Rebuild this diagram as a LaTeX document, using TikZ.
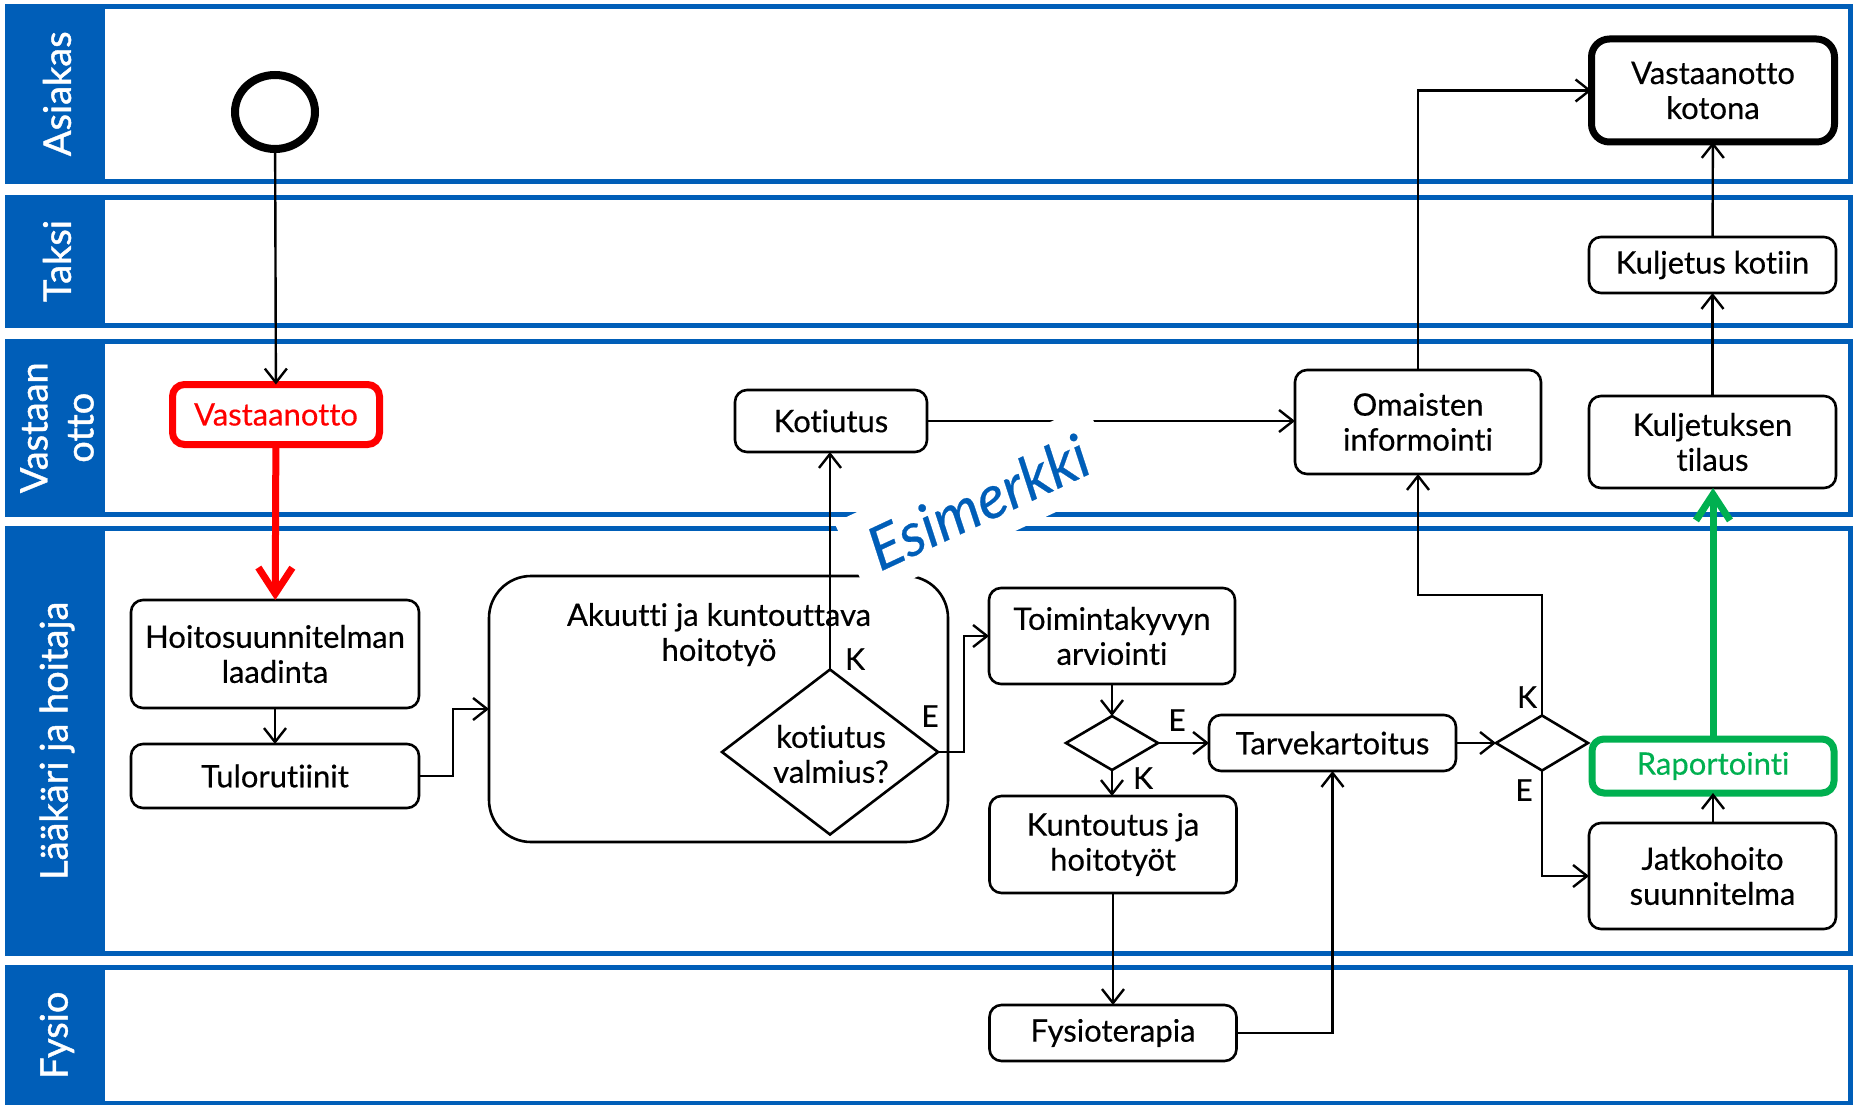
\documentclass[tikz,border=0pt]{standalone}
\usepackage{fontspec}
\setmainfont{Lato}[Ligatures=NoCommon, FakeBold=0.4]
\newfontfamily\lanefam{Lato}[Ligatures=NoCommon, FakeBold=1.1]
\usetikzlibrary{arrows.meta,shapes.geometric,calc}

\definecolor{laneblue}{HTML}{005EB8}
\definecolor{okgreen}{HTML}{00B050}
\definecolor{alertred}{HTML}{FF0000}

\newcommand\boxtxt{\fontsize{31pt}{35pt}\selectfont}
\newcommand\lanetxt{\lanefam\fontsize{38pt}{46pt}\selectfont}
\newcommand\edgetxt{\fontsize{30pt}{32pt}\selectfont}
\newcommand\stamptxt{\fontsize{60pt}{66pt}\selectfont\itshape}

\tikzset{
  every node/.style={inner sep=0pt, outer sep=0pt},
  box/.style={draw, line width=2.6pt, rounded corners=12pt, fill=white,
    align=center, font=\boxtxt},
  decision/.style={diamond, draw, line width=2.6pt, fill=white},
  flow/.style={line width=2.4pt, -{Straight Barb[length=14pt,width=22pt]}},
  bigflow/.style={line width=7pt, -{Straight Barb[length=26pt,width=34pt]}},
  edgelabel/.style={font=\edgetxt},
  lanetitle/.style={rotate=90, text=white, font=\lanetxt, align=center},
}

\begin{document}
\begin{tikzpicture}[x=1pt,y=-1pt]
\useasboundingbox (0,0) rectangle (1855,1105);

% swimlanes
\foreach \t/\b/\name [count=\i] in {6.5/181/Asiakas, 197/325/Taksi,
    341/514.5/{Vastaan\\otto}, 528.5/953/{Lääkäri ja hoitaja}, 967.5/1103/Fysio} {
  \draw[laneblue, line width=5pt, fill=white] (7,\t) rectangle (1850,\b);
  \fill[laneblue] (7,\t) rectangle (105,\b);
  \node[lanetitle] (lane\i) at (57,{(\t+\b)/2}) {\name};
}

% start event
\node[draw, ellipse, line width=8pt, minimum width=80pt, minimum height=74pt] (start) at (275,112) {};

% activities
\node[box, draw=alertred, line width=7pt, text=alertred, minimum width=207pt, minimum height=60pt] (vast) at (276,414.5) {Vastaanotto};
\node[box, minimum width=288pt, minimum height=108pt] (hoito) at (275,654) {Hoitosuunnitelman\\laadinta};
\node[box, minimum width=288pt, minimum height=64pt] (tulo) at (275,776) {Tulorutiinit};
\node[box, rounded corners=42pt, minimum width=459pt, minimum height=266pt] (akuutti) at (718.5,709) {};
\node[font=\boxtxt, align=center, anchor=north] (akuuttitxt) at (719,603) {Akuutti ja kuntouttava\\hoitotyö};
\node[decision, minimum width=216pt, minimum height=165pt] (dia1) at (830,752) {};
\node[font=\boxtxt, align=center] (dia1txt) at (831,754) {kotiutus\\valmius?};
\node[box, minimum width=192pt, minimum height=62pt] (kotiutus) at (831,421) {Kotiutus};
\node[box, minimum width=246pt, minimum height=104pt] (omaisten) at (1418,422) {Omaisten\\informointi};
\node[box, line width=7pt, rounded corners=18pt, minimum width=243pt, minimum height=103pt] (vkotona) at (1713,90.5) {Vastaanotto\\kotona};
\node[box, minimum width=247pt, minimum height=56pt] (kuljkot) at (1712.5,265) {Kuljetus kotiin};
\node[box, minimum width=247pt, minimum height=92pt] (kuljtil) at (1712.5,442) {Kuljetuksen\\tilaus};
\node[box, minimum width=246pt, minimum height=96pt] (toim) at (1112,636) {Toimintakyvyn\\arviointi};
\node[decision, minimum width=92pt, minimum height=54pt] (dia2) at (1112,743) {};
\node[box, minimum width=247pt, minimum height=56pt] (tarve) at (1332.5,743) {Tarvekartoitus};
\node[box, minimum width=247pt, minimum height=97pt] (kuntoutus) at (1113,844.5) {Kuntoutus ja\\hoitotyöt};
\node[box, minimum width=247pt, minimum height=56pt] (fysio) at (1113,1033) {Fysioterapia};
\node[decision, minimum width=92pt, minimum height=55pt] (dia3) at (1542,743) {};
\node[box, draw=okgreen, line width=7pt, text=okgreen, minimum width=242pt, minimum height=54pt] (raport) at (1713,766) {Raportointi};
\node[box, minimum width=247pt, minimum height=106pt] (jatko) at (1712.5,876) {Jatkohoito\\suunnitelma};

% connectors
\draw[flow] (start) -- (vast);
\draw[bigflow, alertred] (vast) -- (hoito);
\draw[flow] (hoito) -- (tulo);
\draw[flow] (tulo.east) -- ++(34,0) |- (akuutti.west);
\draw[flow] (dia1.east) -- ++(26,0) |- (toim.west);
\draw[flow] (kotiutus.east) -- (omaisten.west |- kotiutus.east);
\draw[flow] (omaisten.north) |- (vkotona.west);
\draw[flow] (kuljkot) -- (vkotona);
\draw[flow] (kuljtil) -- (kuljkot);
\draw[bigflow, okgreen] (raport.north) -- (kuljtil.south -| raport.north);
\draw[flow] (jatko.north -| raport.south) -- (raport.south);
\draw[flow] (toim) -- (dia2);
\draw[flow] (dia2.east) -- (tarve.west);
\draw[flow] (dia2.south) -- (kuntoutus.north -| dia2.south);
\draw[flow] (kuntoutus.south) -- (fysio.north -| kuntoutus.south);
\draw[flow] (fysio.east) -| (tarve.south);
\draw[flow] (tarve.east) -- (dia3.west);
\draw[flow] (dia3.north) -- ++(0,-120.5) -| (omaisten.south);
\draw[flow] (dia3.south) |- (jatko.west);

% branch labels
\node[edgelabel] (k1) at (855,659) {K};
\node[edgelabel] (e1) at (930,716) {E};
\node[edgelabel] (e2) at (1177,720) {E};
\node[edgelabel] (k2) at (1143,778) {K};
\node[edgelabel] (k3) at (1527,697) {K};
\node[edgelabel] (e3) at (1524,790) {E};

% watermark
\node[rotate=25, fill=white, text=laneblue, font=\stamptxt, minimum width=278pt, minimum height=84pt] (stamp) at (978,502) {Esimerkki};

% discharge branch, kept above the watermark
\draw[flow] (dia1.north) -- (kotiutus.south -| dia1.north);
\end{tikzpicture}
\end{document}
